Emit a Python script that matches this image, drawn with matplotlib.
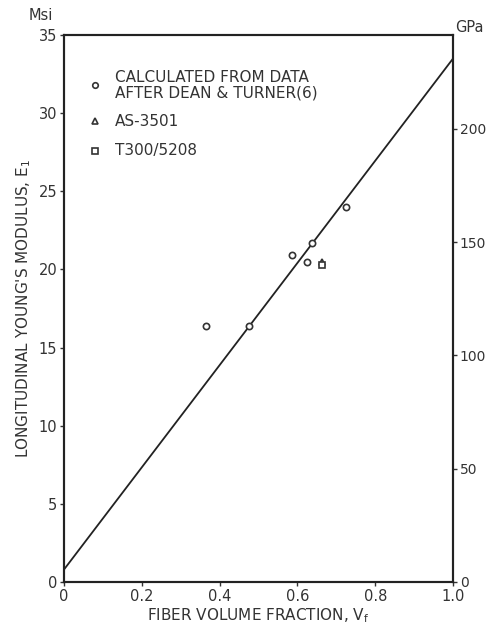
import numpy as np
import matplotlib.pyplot as plt

plt.rcParams['font.family'] = ['Liberation Sans Narrow', 'DejaVu Sans Condensed', 'DejaVu Sans']

# data
dean_vf = [0.365, 0.476, 0.586, 0.625, 0.638, 0.725]
dean_e1 = [16.4, 16.4, 20.9, 20.5, 21.7, 24.0]
as3501_vf = [0.663]
as3501_e1 = [20.5]
t300_vf = [0.663]
t300_e1 = [20.3]
fit_vf = [0.0, 1.0]
fit_e1 = [0.8, 33.5]

msi_to_gpa = 6.895

fig = plt.figure(figsize=(4.86, 6.29), dpi=100)
ax = fig.add_axes([0.132, 0.075, 0.800, 0.869])

ax.plot(fit_vf, fit_e1, color='#222222', lw=1.3)
ax.plot(dean_vf, dean_e1, 'o', ms=4.5, mfc='white', mec='#333333', mew=1.2, ls='none')
ax.plot(as3501_vf, as3501_e1, '^', ms=4.5, mfc='white', mec='#333333', mew=1.2, ls='none')
ax.plot(t300_vf, t300_e1, 's', ms=4.5, mfc='white', mec='#333333', mew=1.2, ls='none')

ax.set_xlim(0, 1.0)
ax.set_ylim(0, 35)
ax.set_xticks([0, 0.2, 0.4, 0.6, 0.8, 1.0])
ax.set_xticklabels(['0', '0.2', '0.4', '0.6', '0.8', '1.0'])
ax.set_yticks([0, 5, 10, 15, 20, 25, 30, 35])
ax.tick_params(direction='out', length=3, width=1, labelsize=10.5, colors='#333333', pad=2)
for s in ax.spines.values():
    s.set_linewidth(1.5)
    s.set_color('#222222')

ax2 = ax.twinx()
ax2.set_ylim(0, 35 * msi_to_gpa)
ax2.set_yticks([0, 50, 100, 150, 200])
ax2.tick_params(direction='out', length=3, width=1, labelsize=10, colors='#333333', pad=2)
for s in ax2.spines.values():
    s.set_linewidth(1.5)
    s.set_color('#222222')

ax.set_xlabel('FIBER VOLUME FRACTION, V$_\\mathregular{f}$', fontsize=11, color='#333333', labelpad=2)
ax.set_ylabel("LONGITUDINAL YOUNG'S MODULUS, E$_\\mathregular{1}$", fontsize=11, color='#333333', labelpad=4)

fig.text(0.085, 0.975, 'Msi', fontsize=10.5, color='#333333', ha='center', va='center')
fig.text(0.965, 0.957, 'GPa', fontsize=10.5, color='#333333', ha='center', va='center')

# legend drawn by hand like the original
ax.plot([0.08], [31.8], 'o', ms=4, mfc='white', mec='#333333', mew=1.2)
ax.text(0.13, 32.3, 'CALCULATED FROM DATA', fontsize=11, color='#333333', va='center')
ax.text(0.13, 31.3, 'AFTER DEAN & TURNER(6)', fontsize=11, color='#333333', va='center')
ax.plot([0.08], [29.5], '^', ms=4, mfc='white', mec='#333333', mew=1.2)
ax.text(0.13, 29.5, 'AS-3501', fontsize=11, color='#333333', va='center')
ax.plot([0.08], [27.6], 's', ms=4, mfc='white', mec='#333333', mew=1.2)
ax.text(0.13, 27.6, 'T300/5208', fontsize=11, color='#333333', va='center')

fig.savefig('out.png', dpi=100)
